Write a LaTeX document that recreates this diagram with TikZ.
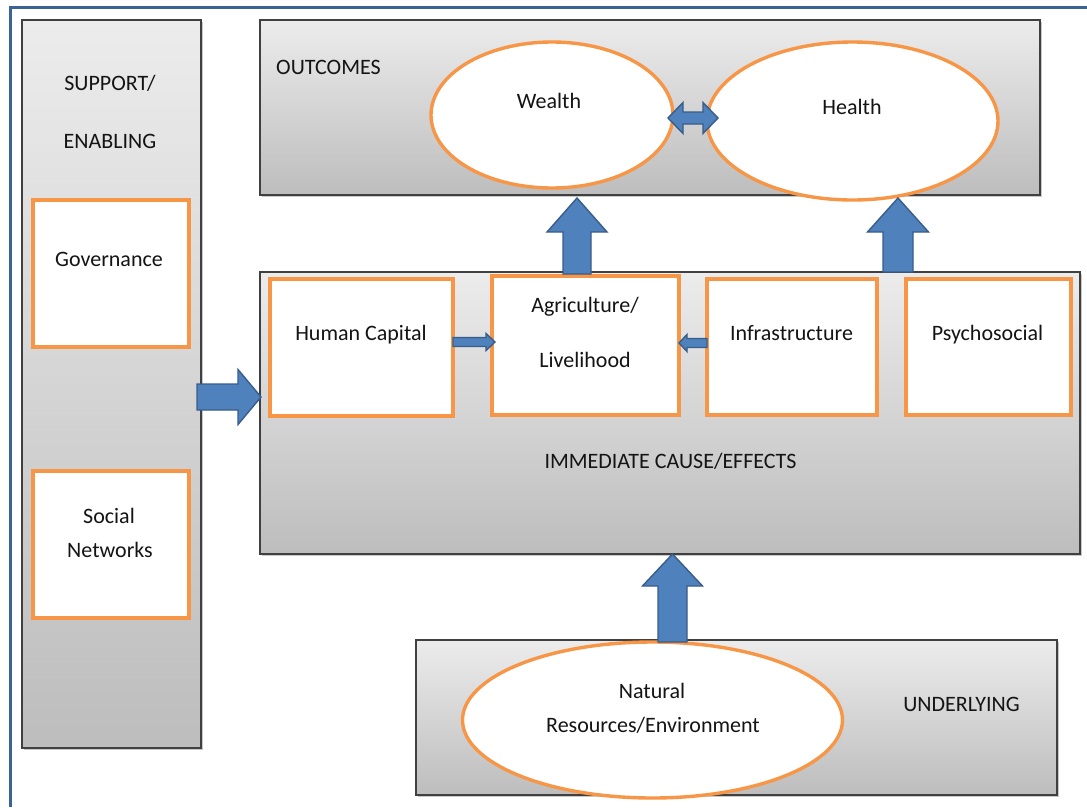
\documentclass[tikz,border=0pt]{standalone}
\usepackage{fontspec}
\setmainfont{Carlito}
\usetikzlibrary{calc,shapes.geometric,shadows}
\definecolor{frameblue}{HTML}{3B6496}
\definecolor{boxline}{HTML}{404040}
\definecolor{gtop}{HTML}{ECECEC}
\definecolor{gbot}{HTML}{BDBDBD}
\definecolor{orng}{HTML}{F79646}
\definecolor{arrfill}{HTML}{4F81BD}
\definecolor{arrline}{HTML}{385D8A}
\definecolor{txtcol}{HTML}{141414}
\newcommand\BlkUp[6]{\draw[blockarr] let \p1=(#2), \p2=(#3) in
  ({#1-#4},\y1) -- ({#1-#4},{\y2-#6}) -- ({#1-#5},{\y2-#6}) -- (#1,\y2) -- ({#1+#5},{\y2-#6}) -- ({#1+#4},{\y2-#6}) -- ({#1+#4},\y1) -- cycle;}
\newcommand\BlkH[6]{\draw[blockarr] let \p1=(#2), \p2=(#3) in
  (\x1,{#1+#4}) -- ({\x2-(#6)},{#1+#4}) -- ({\x2-(#6)},{#1+#5}) -- (\x2,#1) -- ({\x2-(#6)},{#1-#5}) -- ({\x2-(#6)},{#1-#4}) -- (\x1,{#1-#4}) -- cycle;}
\newcommand\BlkDbl[6]{\draw[blockarr] let \p1=(#2), \p2=(#3) in
  (\x1,#1) -- ({\x1+#6},{#1+#5}) -- ({\x1+#6},{#1+#4}) -- ({\x2-#6},{#1+#4}) -- ({\x2-#6},{#1+#5}) -- (\x2,#1)
  -- ({\x2-#6},{#1-#5}) -- ({\x2-#6},{#1-#4}) -- ({\x1+#6},{#1-#4}) -- ({\x1+#6},{#1-#5}) -- cycle;}
\begin{document}
\begin{tikzpicture}[x=1pt,y=-1pt,
  gbox/.style={draw=boxline, line width=1.4pt, top color=gtop, bottom color=gbot,
    inner sep=0pt, outer sep=0pt,
    drop shadow={shadow xshift=1.5pt, shadow yshift=-2pt, opacity=0.3, fill=black!70}},
  obox/.style={draw=orng, line width=3.4pt, fill=white, inner sep=0pt, outer sep=0pt},
  oell/.style={obox, ellipse},
  blockarr/.style={fill=arrfill, draw=arrline, line width=1.4pt},
  txt/.style={font=\fontsize{22}{26}\selectfont, text=txtcol, anchor=base, inner sep=0pt}]
\fill[white] (0,0) rectangle (1087,807);
\useasboundingbox (0,0) rectangle (1087,807);
% outer frame
\draw[frameblue, line width=3pt] (10.5,807) -- (10.5,7.5) -- (1087,7.5);
% grey panels
\node[gbox, minimum width=179pt, minimum height=728pt] (support) at (111.5,384) {};
\node[gbox, minimum width=780pt, minimum height=175pt] (outcomes) at (650,107.5) {};
\node[gbox, minimum width=820pt, minimum height=282pt] (immediate) at (670,413) {};
\node[gbox, minimum width=641pt, minimum height=155pt] (underlying) at (736.5,717.5) {};
% orange boxes
\node[obox, minimum width=156pt, minimum height=147pt] (governance) at (111,273.5) {};
\node[obox, minimum width=156pt, minimum height=147pt] (social) at (111,544.5) {};
\node[obox, minimum width=183pt, minimum height=137pt] (human) at (361.5,347.5) {};
\node[obox, minimum width=187pt, minimum height=139pt] (agri) at (585.5,345.5) {};
\node[obox, minimum width=170pt, minimum height=136pt] (infra) at (792,347) {};
\node[obox, minimum width=165pt, minimum height=136pt] (psycho) at (988.5,347) {};
% ellipses
\node[oell, minimum width=242pt, minimum height=146pt] (wealth) at (552,115) {};
\node[oell, minimum width=291pt, minimum height=158pt] (health) at (852.5,121) {};
\node[oell, minimum width=380pt, minimum height=156pt] (natural) at (652.5,720) {};
% texts
\node[txt] (t-sup1) at (110,90) {SUPPORT/};
\node[txt] (t-sup2) at (110,148) {ENABLING};
\node[txt] (t-gov) at (109,266) {Governance};
\node[txt] (t-soc1) at (109,523) {Social};
\node[txt] (t-soc2) at (110,557) {Networks};
\node[txt, anchor=base west] (t-out) at (276,74) {OUTCOMES};
\node[txt] (t-wealth) at (549,108) {Wealth};
\node[txt] (t-health) at (852,114) {Health};
\node[txt] (t-human) at (361,340) {Human Capital};
\node[txt] (t-agri1) at (585,312) {Agriculture/};
\node[txt] (t-agri2) at (585,367) {Livelihood};
\node[txt] (t-infra) at (791.5,340) {Infrastructure};
\node[txt] (t-psy) at (987.5,340) {Psychosocial};
\node[txt] (t-imm) at (670.5,468) {IMMEDIATE CAUSE/EFFECTS};
\node[txt] (t-nat1) at (652,698) {Natural};
\node[txt] (t-nat2) at (653,732) {Resources/Environment};
\node[txt] (t-und) at (961.5,711) {UNDERLYING};
% block arrows
\BlkUp{577pt}{$(agri.north)+(0,-2)$}{$(outcomes.south)+(0,3)$}{14pt}{30pt}{34pt}
\BlkUp{898pt}{immediate.north}{$(outcomes.south)+(0,3)$}{15pt}{30.5pt}{34pt}
\BlkUp{672.5pt}{$(underlying.north)+(0,2)$}{immediate.south}{14.5pt}{30pt}{32pt}
\BlkH{-397pt}{$(support.east)+(-4,0)$}{$(immediate.west)+(1,0)$}{13pt}{27.5pt}{23pt}
\BlkH{-342pt}{human.east}{$(agri.west)+(3,0)$}{4.5pt}{8.5pt}{9pt}
\BlkH{-343pt}{infra.west}{agri.east}{4.5pt}{8.5pt}{-8pt}
\BlkDbl{-118pt}{$(wealth.east)+(-5,0)$}{$(health.west)+(11,0)$}{6pt}{15.5pt}{15pt}
\end{tikzpicture}
\end{document}
